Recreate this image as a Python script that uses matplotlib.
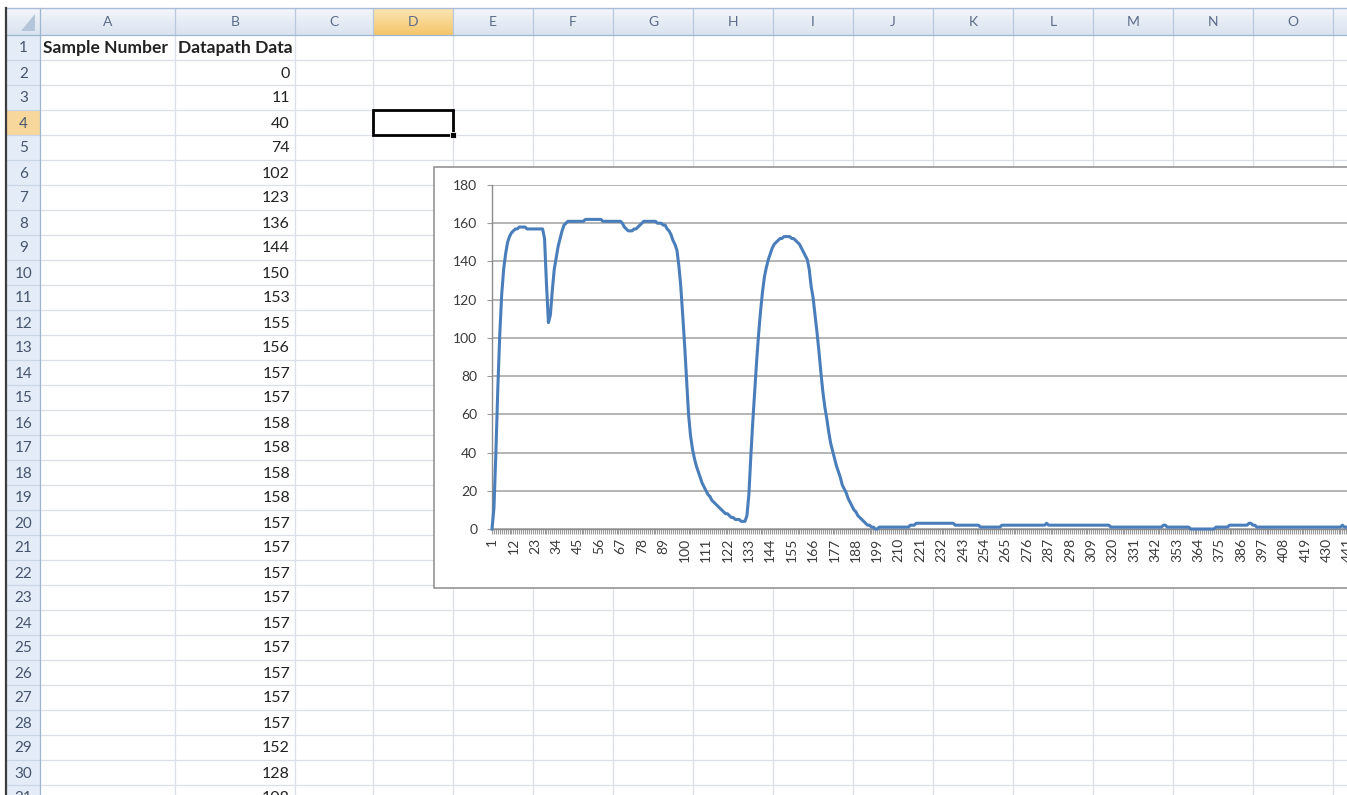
import matplotlib
matplotlib.use('Agg')
import matplotlib.pyplot as plt
from matplotlib.patches import Rectangle, Polygon
import numpy as np

plt.rcParams['font.family'] = ['Lato', 'DejaVu Sans']

# Datapath Data, one value per sample (column B of the sheet)
datapath = [
    0, 11, 40, 74, 102, 123, 136, 144, 150, 153,
    155, 156, 157, 157, 158, 158, 158, 158, 157, 157,
    157, 157, 157, 157, 157, 157, 157, 152, 128, 108,
    112, 125, 136, 142, 148, 152, 156, 159, 160, 161,
    161, 161, 161, 161, 161, 161, 161, 161, 162, 162,
    162, 162, 162, 162, 162, 162, 162, 161, 161, 161,
    161, 161, 161, 161, 161, 161, 161, 160, 158, 157,
    156, 156, 156, 157, 157, 158, 159, 160, 161, 161,
    161, 161, 161, 161, 161, 160, 160, 160, 159, 159,
    157, 156, 154, 151, 149, 146, 138, 127, 112, 96,
    78, 60, 49, 42, 37, 33, 30, 27, 24, 22,
    20, 18, 17, 15, 14, 13, 12, 11, 10, 9,
    8, 8, 7, 6, 6, 5, 5, 5, 4, 4,
    4, 7, 18, 38, 56, 72, 88, 102, 114, 124,
    132, 137, 141, 144, 147, 149, 150, 151, 152, 152,
    153, 153, 153, 153, 152, 152, 151, 150, 149, 147,
    145, 143, 141, 136, 127, 121, 112, 103, 93, 82,
    72, 64, 58, 51, 45, 41, 37, 33, 30, 27,
    23, 21, 19, 16, 14, 12, 10, 9, 7, 6,
    5, 4, 3, 2, 2, 1, 1, 0, 0, 1,
    1, 1, 1, 1, 1, 1, 1, 1, 1, 1, 1, 1, 1, 1, 1,
    2, 2, 2,
    3, 3, 3, 3, 3, 3, 3, 3, 3, 3, 3, 3, 3, 3, 3, 3, 3, 3, 3, 3,
    2, 2, 2, 2, 2, 2, 2, 2, 2, 2, 2, 2, 2,
    1, 1, 1, 1, 1, 1, 1, 1, 1, 1, 1,
    2, 2, 2, 2, 2, 2, 2, 2, 2, 2, 2, 2, 2, 2, 2, 2, 2, 2, 2, 2, 2, 2, 2,
    3,
    2, 2, 2, 2, 2, 2, 2, 2, 2, 2, 2, 2, 2, 2, 2, 2,
    2, 2, 2, 2, 2, 2, 2, 2, 2, 2, 2, 2, 2, 2, 2, 2,
    1, 1, 1, 1, 1, 1, 1, 1, 1, 1, 1, 1, 1, 1, 1, 1, 1, 1, 1, 1, 1, 1, 1, 1, 1, 1, 1,
    2, 2,
    1, 1, 1, 1, 1,
    1, 1, 1, 1, 1, 1, 1, 0, 0, 0, 0, 0, 0, 0, 0, 0, 0, 0, 0, 0, 1, 1, 1, 1, 1,
    1, 1, 2, 2, 2, 2, 2, 2, 2, 2, 2, 2,
    3, 3,
    2, 2, 1, 1, 1, 1, 1, 1,
    1, 1, 1, 1, 1, 1, 1, 1, 1, 1, 1, 1, 1, 1, 1, 1, 1, 1, 1,
    1, 1, 1, 1, 1, 1, 1, 1, 1, 1, 1, 1, 1, 1, 1, 1, 1, 1, 1,
    2,
    1, 1, 1, 1, 1, 1, 1,
]
sample_numbers = list(range(1, len(datapath) + 1))

column_letters = ['A', 'B', 'C', 'D', 'E', 'F', 'G', 'H', 'I', 'J',
                  'K', 'L', 'M', 'N', 'O', 'P']
header_cells = ['Sample Number', 'Datapath Data']

W, H = 1347, 795
fig = plt.figure(figsize=(W / 100, H / 100), dpi=100)

# ---- spreadsheet background, drawn in pixel coordinates ----
sheet = fig.add_axes([0, 0, 1, 1])
sheet.set_xlim(0, W)
sheet.set_ylim(H, 0)
sheet.axis('off')

col_edges = [40, 175, 295, 373, 453, 533, 613, 693, 773, 853, 933,
             1013, 1093, 1173, 1253, 1333, 1413]
head_top, head_bot = 8, 35
row_h = 25
n_rows = 31
sel_col, sel_row = 3, 4

# header band with a soft gradient
grad = np.linspace(0, 1, 30).reshape(-1, 1)
sheet.imshow(grad, extent=(7, W, head_bot, head_top), aspect='auto',
             cmap=matplotlib.colors.LinearSegmentedColormap.from_list(
                 'hdr', ['#F3F6FB', '#DAE3EF']), zorder=1)
# row header column
sheet.add_patch(Rectangle((7, head_bot), 33, H - head_bot, fc='#E4ECF7',
                          ec='none', zorder=1))
# selected column / row headers
sheet.imshow(grad, extent=(col_edges[sel_col], col_edges[sel_col + 1],
                           head_bot, head_top), aspect='auto',
             cmap=matplotlib.colors.LinearSegmentedColormap.from_list(
                 'sel', ['#FBE5B4', '#F5C66B']), zorder=2)
sheet.add_patch(Rectangle((7, head_bot + (sel_row - 1) * row_h), 33, row_h,
                          fc='#F8D79C', ec='none', zorder=2))

# grid lines
for r in range(1, n_rows + 1):
    y = head_bot + r * row_h
    sheet.plot([40, W], [y, y], color='#DADFE8', lw=0.9, zorder=1.5)
    sheet.plot([7, 40], [y, y], color='#C9D6E6', lw=0.9, zorder=2.5)
for x in col_edges[1:]:
    sheet.plot([x, x], [head_bot, H], color='#DADFE8', lw=0.9, zorder=1.5)
    sheet.plot([x, x], [head_top, head_bot], color='#B9C9DD', lw=0.9,
               zorder=2.5)
sheet.plot([40, 40], [head_top, H], color='#9EB6CE', lw=0.9, zorder=2.5)
sheet.plot([7, W], [head_bot, head_bot], color='#9EB6CE', lw=0.9, zorder=2.5)
sheet.plot([7, W], [head_top, head_top], color='#A9BCD3', lw=1.0, zorder=2.5)
sheet.plot([6, 6], [head_top, H], color='#3C3C3C', lw=1.6, zorder=3)

# corner triangle
sheet.add_patch(Polygon([(35, 14), (35, 31), (21, 31)], closed=True,
                        fc='#B6C6DA', ec='none', zorder=3))

# header letters and row numbers
for i, letter in enumerate(column_letters):
    cx = (col_edges[i] + col_edges[i + 1]) / 2
    sheet.text(cx, (head_top + head_bot) / 2 + 1, letter, ha='center',
               va='center', fontsize=10, color='#5A6C88', zorder=4)
for r in range(1, n_rows + 1):
    cy = head_bot + (r - 0.5) * row_h
    sheet.text(23.5, cy + 1, str(r), ha='center', va='center',
               fontsize=11, color='#46556E', zorder=4)

# cell contents
sheet.text(43, head_bot + 0.5 * row_h + 1, header_cells[0], ha='left',
           va='center', fontsize=12.6, fontweight='bold', color='#222222',
           zorder=4)
sheet.text(178, head_bot + 0.5 * row_h + 1, header_cells[1], ha='left',
           va='center', fontsize=12.6, fontweight='bold', color='#222222',
           zorder=4)
for r in range(2, n_rows + 1):
    cy = head_bot + (r - 0.5) * row_h
    sheet.text(290, cy + 1, str(datapath[r - 2]), ha='right', va='center',
               fontsize=11.5, color='#222222', zorder=4)

# active cell D4
sx = col_edges[sel_col]
sy = head_bot + (sel_row - 1) * row_h
sheet.add_patch(Rectangle((sx, sy), col_edges[sel_col + 1] - sx, row_h,
                          fc='none', ec='black', lw=2.0, zorder=5))
sheet.add_patch(Rectangle((col_edges[sel_col + 1] - 3, sy + row_h - 3), 6, 6,
                          fc='black', ec='white', lw=0.6, zorder=6))

# chart frame
sheet.add_patch(Rectangle((434, 167), 1000, 421, fc='white', ec='#8C8C8C',
                          lw=1.1, zorder=7))

# ---- embedded line chart ----
px_per_sample = 1.946
x0_px, y0_px, ytop_px = 492, 529, 185
x1_px = x0_px + (len(datapath) - 1) * px_per_sample
ax = fig.add_axes([x0_px / W, (H - y0_px) / H, (x1_px - x0_px) / W,
                   (y0_px - ytop_px) / H], zorder=10)
ax.plot(sample_numbers, datapath, color='#4A7EBB', lw=2.2,
        solid_joinstyle='round', clip_on=False, zorder=5)
ax.set_xlim(1, len(datapath))
ax.set_ylim(0, 180)
ax.set_yticks(range(0, 181, 20))
ax.yaxis.grid(True, color='#A0A0A0', lw=1.1)
ax.set_axisbelow(True)
ax.set_xticks(sample_numbers[::11])
ax.set_xticklabels([str(n) for n in sample_numbers[::11]], rotation=90)
ax.set_xticks(sample_numbers, minor=True)
for side in ['top', 'right']:
    ax.spines[side].set_visible(False)
for side in ['left', 'bottom']:
    ax.spines[side].set_color('#8C8C8C')
    ax.spines[side].set_linewidth(1.0)
ax.tick_params(axis='x', which='both', length=3.5, width=0.8,
               color='#9A9A9A', labelsize=10, labelcolor='#3A3A3A', pad=3)
ax.tick_params(axis='y', length=3.5, width=0.8, color='#9A9A9A',
               labelsize=10, labelcolor='#3A3A3A', pad=7)

fig.savefig('out.png', dpi=100)
